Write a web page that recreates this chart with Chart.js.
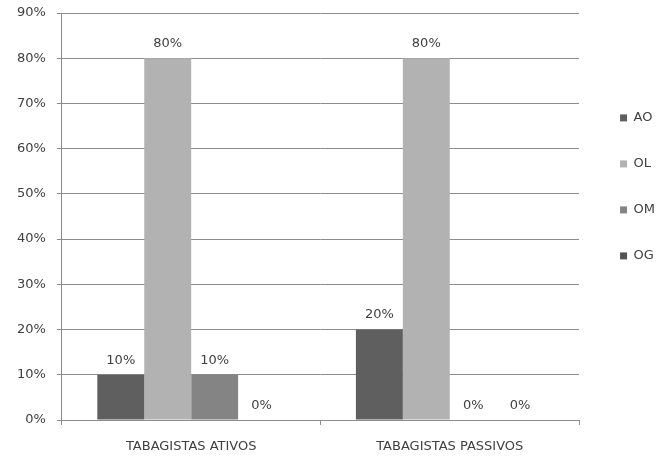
<!DOCTYPE html>
<html>
<head>
<meta charset="utf-8">
<script src="https://cdn.jsdelivr.net/npm/chart.js@4/dist/chart.umd.min.js"></script>
<style>
html,body{margin:0;padding:0;background:#fff;}
#wrap{width:668px;height:457px;position:relative;}
</style>
</head>
<body>
<div id="wrap"><canvas id="c" width="668" height="457"></canvas></div>
<script>
const categories = ["TABAGISTAS ATIVOS", "TABAGISTAS PASSIVOS"];
const seriesNames = ["AO", "OL", "OM", "OG"];
const valuesAO = [10, 20];
const valuesOL = [80, 80];
const valuesOM = [10, 0];
const valuesOG = [0, 0];
const yTicks = [0, 10, 20, 30, 40, 50, 60, 70, 80, 90];

const colors = ["#5f5f5f", "#b2b2b2", "#848484", "#545454"];
const allValues = [valuesAO, valuesOL, valuesOM, valuesOG];
const textColor = "#404040";
const gridColor = "#8c8c8c";
const fontFamily = "'DejaVu Sans', sans-serif";
const fontSize = 13;
const legendExtraWidth = 6;
const legendShift = 8;
const xAxisHeight = 35;

const labelPlugin = {
  id: 'barLabels',
  afterInit(chart) {
    const lg = chart.legend;
    if (lg && !lg._patched) {
      const origFit = lg.fit;
      lg.fit = function () {
        origFit.call(this);
        this.width += legendExtraWidth;
      };
      const origDraw = lg.draw;
      lg.draw = function () {
        this.ctx.save();
        this.ctx.translate(legendShift, 0);
        origDraw.apply(this, arguments);
        this.ctx.restore();
      };
      lg._patched = true;
    }
  },
  afterDatasetsDraw(chart) {
    const ctx = chart.ctx;
    ctx.save();
    ctx.font = fontSize + "px " + fontFamily;
    ctx.fillStyle = textColor;
    ctx.textAlign = 'center';
    ctx.textBaseline = 'bottom';
    chart.data.datasets.forEach((ds, i) => {
      const meta = chart.getDatasetMeta(i);
      meta.data.forEach((bar, j) => {
        ctx.fillText(ds.data[j] + '%', bar.x, bar.y - 8);
      });
    });
    ctx.restore();
  }
};

new Chart(document.getElementById('c'), {
  type: 'bar',
  data: {
    labels: categories,
    datasets: seriesNames.map((n, i) => ({
      label: n,
      data: allValues[i],
      backgroundColor: colors[i],
      borderWidth: 0,
      categoryPercentage: 0.726,
      barPercentage: 1.0
    }))
  },
  options: {
    responsive: false,
    animation: false,
    devicePixelRatio: 1,
    layout: { padding: { left: 6, right: 5, top: 2, bottom: 2 } },
    plugins: {
      tooltip: { enabled: false },
      legend: {
        position: 'right',
        align: 'start',
        title: { display: true, text: '', padding: { top: 62, bottom: 0 }, font: { size: 12 } },
        labels: {
          boxWidth: 7, boxHeight: 7,
          padding: 33,
          color: textColor,
          font: { size: fontSize, family: fontFamily }
        }
      }
    },
    scales: {
      x: {
        afterFit(axis) { axis.height = xAxisHeight; },
        grid: { drawOnChartArea: false, drawTicks: true, tickLength: 5, color: gridColor, offset: true },
        border: { color: gridColor },
        ticks: { color: textColor, font: { size: fontSize, family: fontFamily }, padding: 14, maxRotation: 0, minRotation: 0, autoSkip: false }
      },
      y: {
        min: 0, max: 90,
        afterBuildTicks(axis) { axis.ticks = yTicks.map(v => ({ value: v })); },
        afterFit(axis) { axis.paddingTop = 13; axis.paddingBottom = 0; },
        grid: { color: gridColor, tickLength: 5 },
        border: { color: gridColor },
        ticks: { color: textColor, font: { size: fontSize, family: fontFamily }, padding: 11, callback: v => v + '%' }
      }
    }
  },
  plugins: [labelPlugin]
});
</script>
</body>
</html>
